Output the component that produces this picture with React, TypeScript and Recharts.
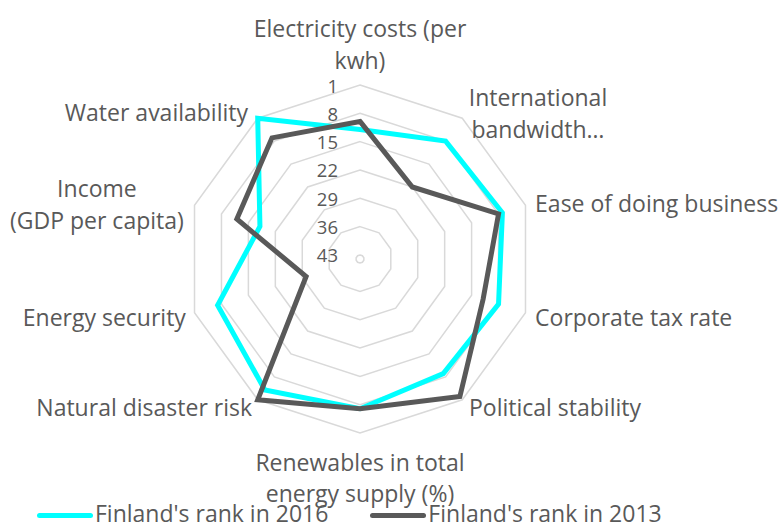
import { RadarChart, Radar, PolarGrid, PolarAngleAxis, PolarRadiusAxis, Legend } from 'recharts'

const categories = [
  'Electricity costs (per kwh)',
  'International bandwidth…',
  'Ease of doing business',
  'Corporate tax rate',
  'Political stability',
  'Renewables in total energy supply (%)',
  'Natural disaster risk',
  'Energy security',
  'Income (GDP per capita)',
  'Water availability',
]

const rank2016 = [12, 8, 7, 8, 9, 7, 4, 7, 18, 1]
const rank2013 = [10, 22, 8, 12, 2, 7, 1, 30, 12, 7]
const rankTicks = [1, 8, 15, 22, 29, 36, 43]
const seriesNames = ["Finland's rank in 2016", "Finland's rank in 2013"]

// how Excel wrapped the longer category names
const labelLines: Record<string, string[]> = {
  'Electricity costs (per kwh)': ['Electricity costs (per', 'kwh)'],
  'International bandwidth…': ['International', 'bandwidth…'],
  'Renewables in total energy supply (%)': ['Renewables in total', 'energy supply (%)'],
  'Income (GDP per capita)': ['Income', '(GDP per capita)'],
}

const labelPlacement: { anchor: 'start' | 'middle' | 'end'; dx: number; dy: number[] }[] = [
  { anchor: 'middle', dx: 0, dy: [-49, -17] },
  { anchor: 'middle', dx: 71, dy: [-15, 17] },
  { anchor: 'start', dx: 2, dy: [0] },
  { anchor: 'start', dx: 2, dy: [2] },
  { anchor: 'start', dx: 2, dy: [1] },
  { anchor: 'middle', dx: 0, dy: [21, 52] },
  { anchor: 'end', dx: -1, dy: [1] },
  { anchor: 'end', dx: -1, dy: [2] },
  { anchor: 'middle', dx: -90, dy: [-15, 17] },
  { anchor: 'end', dx: -5, dy: [0] },
]

const FONT = '"Open Sans", sans-serif'
const TEXT = '#595959'

const data = categories.map((name, i) => ({
  name,
  r2016: rank2016[i],
  r2013: rank2013[i],
}))

const AngleTick = ({ x, y, payload }: any) => {
  const i = categories.indexOf(payload.value)
  const p = labelPlacement[i]
  const lines = labelLines[payload.value] ?? [payload.value]
  return (
    <text
      x={x + p.dx}
      y={y}
      textAnchor={p.anchor}
      dominantBaseline="central"
      fontSize={23}
      fontFamily={FONT}
      fill={TEXT}
    >
      {lines.map((l, k) => (
        <tspan key={k} x={x + p.dx} y={y + p.dy[k]}>
          {l}
        </tspan>
      ))}
    </text>
  )
}

const RankTick = ({ x, y, payload }: any) => (
  <text
    x={x - 22}
    y={y}
    textAnchor="end"
    dominantBaseline="central"
    fontSize={18.5}
    fontFamily={FONT}
    fill={TEXT}
  >
    {payload.value}
  </text>
)

const renderLegend = ({ payload }: any) => {
  const items = [...(payload || [])].sort(
    (a: any, b: any) => seriesNames.indexOf(a.value) - seriesNames.indexOf(b.value),
  )
  return (
    <div
      style={{
        display: 'flex',
        alignItems: 'center',
        height: 25,
        paddingLeft: 37,
        fontFamily: FONT,
        fontSize: 23,
        lineHeight: '25px',
        color: TEXT,
      }}
    >
      {items.map((entry: any, i: number) => (
        <div key={i} style={{ display: 'flex', alignItems: 'center', marginRight: 42 }}>
          <span
            style={{
              display: 'inline-block',
              width: 56,
              height: 5,
              marginTop: 4,
              borderRadius: 3,
              background: entry.color,
              marginRight: 2,
            }}
          />
          <span style={{ whiteSpace: 'nowrap' }}>{entry.value}</span>
        </div>
      ))}
    </div>
  )
}

export default function App() {
  return (
    <div style={{ position: 'absolute', left: 0, top: 0, width: 779, height: 526, background: '#fff' }}>
      <RadarChart
        width={779}
        height={526}
        data={data}
        cx={360}
        cy={259}
        outerRadius={174}
        margin={{ top: 0, right: 0, bottom: 0, left: 0 }}
      >
        <PolarGrid gridType="polygon" radialLines={false} stroke="#d9d9d9" strokeWidth={1.5} />
        <PolarAngleAxis dataKey="name" tick={<AngleTick />} tickLine={false} axisLine={false} />
        <PolarRadiusAxis
          angle={90}
          type="number"
          domain={[1, 43.7]}
          ticks={rankTicks}
          reversed
          axisLine={false}
          tickLine={false}
          tick={<RankTick />}
        />
        <Radar
          name={seriesNames[0]}
          dataKey="r2016"
          stroke="#00ffff"
          strokeWidth={5}
          fill="none"
          fillOpacity={0}
          dot={false}
          isAnimationActive={false}
        />
        <Radar
          name={seriesNames[1]}
          dataKey="r2013"
          stroke="#595959"
          strokeWidth={5}
          fill="none"
          fillOpacity={0}
          dot={false}
          isAnimationActive={false}
        />
        <Legend
          content={renderLegend}
          wrapperStyle={{ position: 'absolute', left: 0, top: 501, width: 779, height: 25 }}
        />
      </RadarChart>
    </div>
  )
}
